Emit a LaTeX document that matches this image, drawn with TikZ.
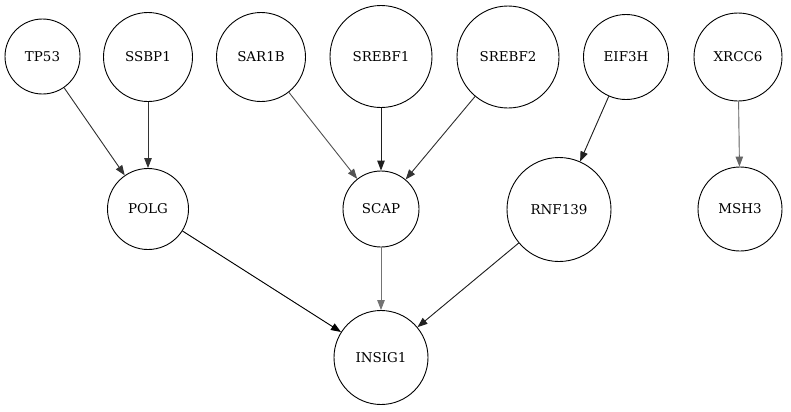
\documentclass[tikz,border=0pt]{standalone}
\usepackage{fontspec}
\setmainfont{DejaVu Serif}
\usetikzlibrary{arrows.meta}
\begin{document}
\begin{tikzpicture}[x=1bp,y=-1bp,
  gene/.style={circle,draw=black,line width=0.9bp,inner sep=0pt,font=\fontsize{13.5}{15}\selectfont},
  link/.style={line width=0.9bp,-{Triangle[length=10bp,width=7.5bp]}}]
\useasboundingbox (0,0) rectangle (791,411);
% top row
\node[gene,minimum size=75bp] (tp53) at (42.5,56.5) {TP53};
\node[gene,minimum size=89bp] (ssbp1) at (148,57) {SSBP1};
\node[gene,minimum size=89bp] (sar1b) at (261,57) {SAR1B};
\node[gene,minimum size=102bp] (srebf1) at (381,56.5) {SREBF1};
\node[gene,minimum size=102bp] (srebf2) at (508,57) {SREBF2};
\node[gene,minimum size=85bp] (eif3h) at (626,57) {EIF3H};
\node[gene,minimum size=88bp] (xrcc6) at (738,57) {XRCC6};
% middle row
\node[gene,minimum size=81bp] (polg) at (148,209) {POLG};
\node[gene,minimum size=76bp] (scap) at (381,209) {SCAP};
\node[gene,minimum size=104bp] (rnf139) at (559,209.5) {RNF139};
\node[gene,minimum size=84bp] (msh3) at (740,209) {MSH3};
% bottom
\node[gene,minimum size=94bp] (insig1) at (381,357.5) {INSIG1};
% edges
\draw[link,draw=black!80,fill=black!80] (tp53) -- (polg);
\draw[link,draw=black!80,fill=black!80] (ssbp1) -- (polg);
\draw[link,draw=black!67,fill=black!67] (sar1b) -- (scap);
\draw[link,draw=black!88,fill=black!88] (srebf1) -- (scap);
\draw[link,draw=black!80,fill=black!80] (srebf2) -- (scap);
\draw[link,draw=black!87,fill=black!87] (eif3h) -- (rnf139);
\draw[link,draw=black!60,fill=black!60] (xrcc6) -- (msh3);
\draw[link,draw=black,fill=black] (polg) -- (insig1);
\draw[link,draw=black!55,fill=black!55] (scap) -- (insig1);
\draw[link,draw=black!87,fill=black!87] (rnf139) -- (insig1);
\end{tikzpicture}
\end{document}
